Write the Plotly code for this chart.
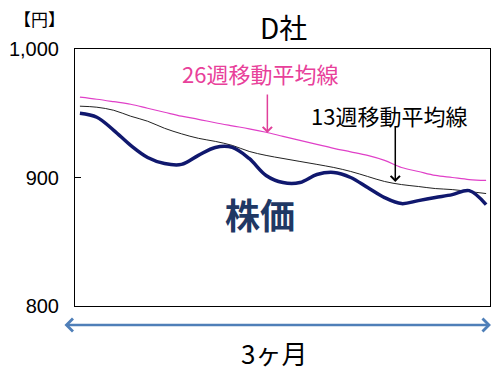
import plotly.graph_objects as go

# Sample index (about every 3 trading days across 3 months)
idx = list(range(25))

price = [950.0, 946.9, 936.7, 925.0, 915.6, 910.9, 910.2, 917.2, 923.4, 923.4,
         914.8, 901.6, 896.1, 896.1, 902.3, 903.9, 900.0, 892.2, 884.4, 879.7,
         882.0, 884.4, 886.7, 889.8, 878.9]

ma13 = [955.5, 954.7, 952.3, 947.7, 943.8, 938.3, 934.0, 930.5, 928.1, 925.0,
        920.3, 917.2, 914.8, 912.5, 910.2, 907.8, 904.7, 900.8, 896.9, 894.5,
        893.0, 891.4, 890.6, 889.1, 887.5]

ma26 = [962.5, 960.9, 959.0, 957.0, 953.9, 950.8, 947.7, 945.3, 942.6, 940.2,
        937.9, 935.2, 932.0, 928.9, 925.8, 922.7, 920.0, 917.2, 913.3, 907.8,
        904.7, 901.6, 900.0, 898.4, 897.7]

y_ticks = [800, 900, 1000]
y_tick_labels = ["800", "900", "1,000"]

JP = "Noto Sans CJK JP"
NUM = "Liberation Sans"

fig = go.Figure()
fig.add_trace(go.Scatter(x=idx, y=ma26, mode="lines", line=dict(color="#e040c8", width=1.2, shape="spline"),
                         hoverinfo="skip"))
fig.add_trace(go.Scatter(x=idx, y=ma13, mode="lines", line=dict(color="#222222", width=1, shape="spline"),
                         hoverinfo="skip"))
fig.add_trace(go.Scatter(x=idx, y=price, mode="lines", line=dict(color="#10186e", width=3.5, shape="spline"),
                         hoverinfo="skip"))

fig.update_layout(
    width=500, height=380,
    margin=dict(l=66, r=9, t=49, b=74),
    paper_bgcolor="white", plot_bgcolor="white",
    showlegend=False,
    xaxis=dict(range=[-0.29, 24.23], showgrid=False, zeroline=False, showticklabels=False, ticks="",
               showline=True, linecolor="black", linewidth=1, mirror=True),
    yaxis=dict(range=[800, 1000], tickvals=y_ticks, ticktext=y_tick_labels, ticks="inside", ticklen=6,
               tickcolor="black", showgrid=False, zeroline=False, showline=True, linecolor="black",
               linewidth=1, mirror=True, tickfont=dict(family=NUM, size=20, color="black"),
               ticklabelstandoff=11),
)


def px_x(p):
    return (p - 66) / 425


def px_y(p):
    return (306 - p) / 257


def label(text, cx, cy, size, color, family=JP):
    return dict(text=text, x=px_x(cx), y=px_y(cy), xref="paper", yref="paper",
                xanchor="center", yanchor="middle", showarrow=False,
                font=dict(family=family, size=size, color=color))


ann = [
    label("D社", 280, 27, 28, "black"),
    label("【円】", 30, 19, 17, "black"),
    label("26週移動平均線", 255, 73, 22, "#e8409a"),
    label("13週移動平均線", 388, 115, 22, "black"),
    label("<b>株価</b>", 255, 214, 35, "#1f3864"),
    label("3ヶ月", 270, 352, 26, "black"),
    # arrows
    dict(text="", x=px_x(263), y=px_y(133), xref="paper", yref="paper",
         showarrow=True, ax=0, ay=-40, arrowhead=4, arrowsize=1.2, arrowwidth=1.5, arrowcolor="#e0409a"),
    dict(text="", x=px_x(394), y=px_y(182), xref="paper", yref="paper",
         showarrow=True, ax=0, ay=-57, arrowhead=4, arrowsize=1.2, arrowwidth=1.5, arrowcolor="black"),
    dict(text="", x=px_x(492), y=px_y(325), xref="paper", yref="paper",
         showarrow=True, ax=-428, ay=0, arrowhead=4, startarrowhead=4, arrowside="end+start",
         arrowsize=1, startarrowsize=1, arrowwidth=2.5, arrowcolor="#4f7fb8"),
]
fig.update_layout(annotations=ann)

fig.write_html("out.html")
